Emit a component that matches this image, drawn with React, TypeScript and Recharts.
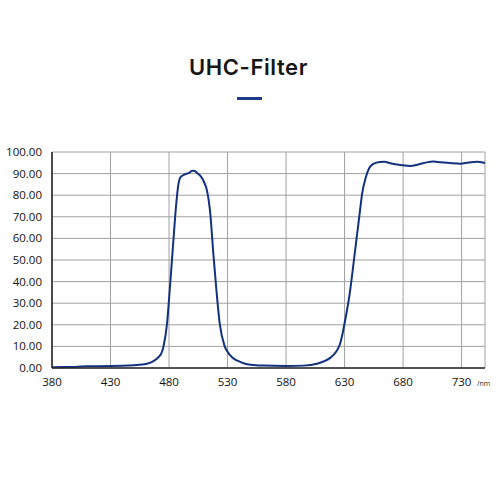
import { CartesianGrid, Line, LineChart, XAxis, YAxis } from "recharts";

const wavelengths = [
  380, 400, 410, 420, 440, 450, 461, 466, 471, 474, 475.5, 478.3, 481, 484, 486, 488, 490, 493, 497, 500,
  502, 504, 507, 510, 512.5, 515, 518, 520.5, 523.3, 527.3, 530, 533.8, 538, 545, 550, 560, 580, 595, 606.5,
  612, 618, 621, 624, 626, 628, 630, 632, 634, 636, 638, 640.5, 643, 645, 648, 651, 655, 660, 664, 670, 678,
  686, 693, 700, 706, 712, 720, 729, 736, 743, 750,
];
const transmission = [
  0.4, 0.5, 0.8, 0.8, 1.0, 1.3, 2.0, 3.0, 5.0, 7.5, 10.5, 20.7, 39, 61, 75, 85, 88.5, 89.5, 90.3, 91.3,
  91.2, 90.3, 88.8, 86, 82, 73, 52, 36, 20.7, 10.5, 7.5, 5, 3.5, 2, 1.5, 1.1, 0.9, 1.1, 2.0,
  3.0, 4.8, 6.3, 8.6, 11, 15.2, 20.7, 26.5, 33, 41, 50, 61, 72, 80.7, 88, 92.5, 94.6, 95.4, 95.5, 94.7, 94.0,
  93.5, 94.2, 95.2, 95.6, 95.3, 94.9, 94.6, 95.1, 95.5, 94.9,
];
const xTicks = [380, 430, 480, 530, 580, 630, 680, 730];
const yTicks = [0, 10, 20, 30, 40, 50, 60, 70, 80, 90, 100];

const data = wavelengths.map((nm, i) => ({ nm, t: transmission[i] }));

const tickStyle = { fontSize: 11.5, fill: "#111", fontFamily: "'Open Sans', sans-serif" };

export default function App() {
  return (
    <div style={{ position: "absolute", left: 0, top: 0, width: 500, height: 500, background: "#fff" }}>
      <div
        style={{
          position: "absolute",
          left: 0,
          top: 52,
          width: 497,
          textAlign: "center",
          fontFamily: "Inter, sans-serif",
          fontWeight: 600,
          fontSize: 22,
          letterSpacing: 0.6,
          color: "#161616",
          lineHeight: "30px",
        }}
      >
        UHC-Filter
      </div>
      <div style={{ position: "absolute", left: 237, top: 97, width: 25, height: 3, background: "#1d3c8c" }} />
      <div style={{ position: "absolute", left: 0, top: 0 }}>
        <LineChart width={500} height={500} data={data} margin={{ top: 152, right: 15, left: 0, bottom: 102 }}>
          <CartesianGrid stroke="#a0a0a0" strokeWidth={1} />
          <XAxis
            dataKey="nm"
            type="number"
            domain={[380, 750]}
            ticks={xTicks}
            height={30}
            tick={tickStyle}
            tickLine={false}
            tickSize={0}
            tickMargin={10}
            axisLine={{ stroke: "#2a2a2a", strokeWidth: 1.6 }}
            interval={0}
          />
          <YAxis
            type="number"
            domain={[0, 100]}
            ticks={yTicks}
            width={52}
            tick={tickStyle}
            tickLine={false}
            tickSize={0}
            tickMargin={10}
            tickFormatter={(v) => Number(v).toFixed(2)}
            axisLine={{ stroke: "#2a2a2a", strokeWidth: 1.6 }}
            interval={0}
          />
          <Line
            type="monotone"
            dataKey="t"
            stroke="#12317f"
            strokeWidth={2}
            dot={false}
            isAnimationActive={false}
          />
        </LineChart>
      </div>
      <div
        style={{
          position: "absolute",
          left: 477,
          top: 379,
          fontSize: 7,
          fontFamily: "'Open Sans', sans-serif",
          color: "#1f1f1f",
        }}
      >
        /nm
      </div>
    </div>
  );
}
